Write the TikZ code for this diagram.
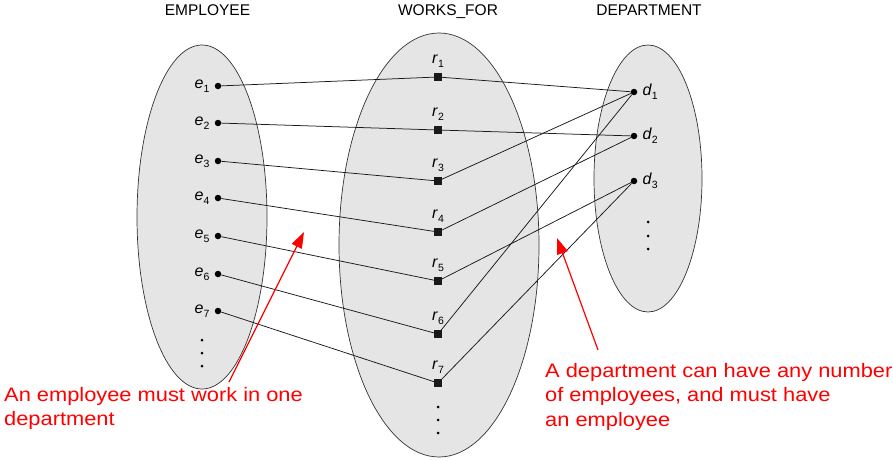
\documentclass[tikz,border=0pt]{standalone}
\usepackage{fontspec}
\setmainfont{Liberation Sans}
\newfontfamily\notefont[FakeStretch=1.12]{Liberation Sans}
\usetikzlibrary{shapes.geometric,arrows.meta}
% italic letter with a lowered index
\newcommand\idx[2]{\textit{#1}\raisebox{-0.5ex}{\fontsize{10.5}{10.5}\selectfont #2}}

\tikzset{
  entityset/.style={ellipse, draw=black!80, fill=black!10, line width=0.7pt, inner sep=0pt},
  title/.style={font=\fontsize{15.5}{15.5}\selectfont, anchor=base},
  edot/.style={circle, fill=black, inner sep=0pt, minimum size=6.5pt},
  rbox/.style={rectangle, fill=black!90, inner sep=0pt, minimum size=7.5pt},
  lbl/.style={font=\fontsize{16}{16}\selectfont, inner sep=1pt},
  link/.style={draw=black!90, line width=0.75pt},
  more/.style={circle, fill=black, inner sep=0pt, minimum size=3pt},
  note/.style={text=red, font=\notefont\fontsize{19.5}{24.5}\selectfont, align=left, inner sep=0pt, anchor=north west},
  notearrow/.style={draw=red, line width=1.2pt, -{Triangle[length=16pt,width=11pt]}},
}

\begin{document}
\begin{tikzpicture}[x=1pt,y=-1pt]
  \useasboundingbox (0,0) rectangle (893,460);

  % the three sets
  \node[entityset, minimum width=130pt, minimum height=344pt] (emp) at (202,217) {};
  \node[entityset, minimum width=200pt, minimum height=424pt] (works) at (439,245) {};
  \node[entityset, minimum width=108pt, minimum height=267pt] (dept) at (648,178.5) {};

  \node[title] (tEmp) at (207.5,16) {EMPLOYEE};
  \node[title] (tWorks) at (448,16) {WORKS\_FOR};
  \node[title] (tDept) at (649,16) {DEPARTMENT};

  % employees
  \foreach \i/\y in {1/86,2/123,3/161,4/198,5/236,6/274,7/311}
    \node[edot, label={[lbl, label distance=4pt]left:\idx{e}{\i}}] (e\i) at (218,\y) {};
  % relationship instances
  \foreach \i/\y in {1/77,2/130,3/181,4/232,5/281,6/334,7/383}
    \node[rbox, label={[lbl, label distance=4pt]above:\idx{r}{\i}}] (r\i) at (438,\y) {};
  % departments
  \foreach \i/\y in {1/92,2/136,3/181}
    \node[edot, label={[lbl, label distance=4pt]right:\idx{d}{\i}}] (d\i) at (634,\y) {};

  % continuation dots
  \foreach \y [count=\k] in {340,353,366}
    \node[more] (eMore\k) at (202,\y) {};
  \foreach \y [count=\k] in {407,420,433}
    \node[more] (rMore\k) at (438,\y) {};
  \foreach \y [count=\k] in {222,236,249}
    \node[more] (dMore\k) at (648,\y) {};

  % participation links
  \foreach \i in {1,...,7}
    \path[link] (e\i) -- (r\i);
  \foreach \r/\d in {1/1,2/2,3/1,4/2,5/3,6/1,7/3}
    \path[link] (r\r) -- (d\d);

  % annotations
  \node[note] (noteEmp) at (4,387) {An employee must work in one\\department};
  \node[note] (noteDept) at (545,363) {A department can have any number\\of employees, and must have\\an employee};

  \coordinate (tailEmp) at (229,382);
  \coordinate (tipEmp) at (304,232);
  \coordinate (tailDept) at (598,350);
  \coordinate (tipDept) at (557,238);
  \draw[notearrow] (tailEmp) -- (tipEmp);
  \draw[notearrow] (tailDept) -- (tipDept);
\end{tikzpicture}
\end{document}
